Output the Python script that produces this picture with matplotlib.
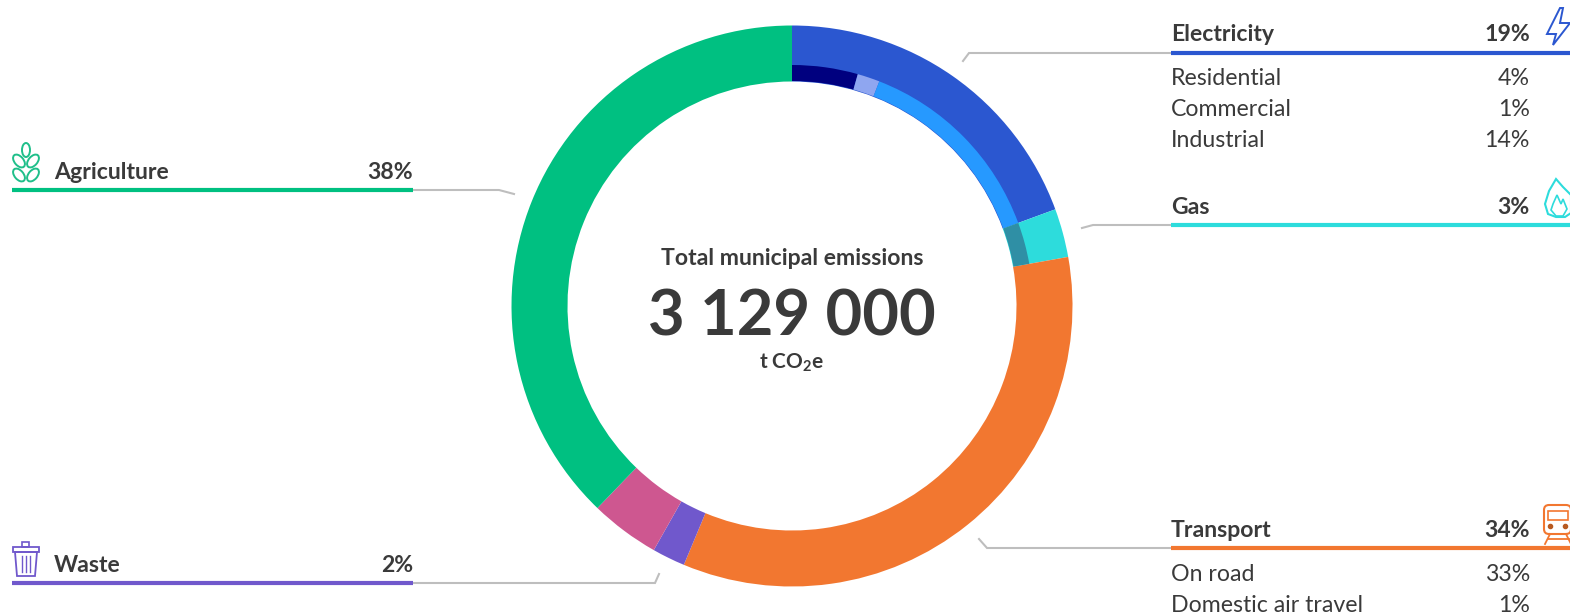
import matplotlib
matplotlib.use('Agg')
import matplotlib.pyplot as plt
from matplotlib.patches import Ellipse, FancyBboxPatch, Polygon, Rectangle

plt.rcParams['font.family'] = ['Lato', 'DejaVu Sans']

# Outer ring, clockwise from 12 o'clock (percent of total)
outer_values = [19.4, 2.8, 34.1, 1.9, 4.0, 37.8]
outer_colors = ['#2B57D0', '#2DDCDC', '#F27730', '#7058CC', '#CE5790', '#00C081']

# Inner band of the ring: electricity and gas sub-sectors, the rest left empty
inner_values = [4.4, 1.5, 13.5, 2.8, 77.8]
inner_colors = ['#00007F', '#8FA6F0', '#2699FF', '#2F8FA5', 'none']

# Legend blocks
sector_names = ['Electricity', 'Gas', 'Transport', 'Agriculture', 'Waste']
sector_pcts = ['19%', '3%', '34%', '38%', '2%']
sector_colors = ['#2B57D0', '#2DDCDC', '#F27730', '#00C081', '#7058CC']
sub_names = ['Residential', 'Commercial', 'Industrial', 'On road', 'Domestic air travel']
sub_pcts = ['4%', '1%', '14%', '33%', '1%']

TEXT = '#3A3A3A'
GREY = '#BEBEBE'
W, H = 1570, 613

fig = plt.figure(figsize=(W / 100, H / 100), dpi=100)

# Donut
cx, cy, R = 792, 306, 280.5
ring = fig.add_axes([(cx - R) / W, (H - cy - R) / H, 2 * R / W, 2 * R / H])
ring.pie(outer_values, colors=outer_colors, startangle=90, counterclock=False, radius=1,
         wedgeprops=dict(width=56 / R, linewidth=0))
ring.pie(inner_values, colors=inner_colors, startangle=90, counterclock=False, radius=241 / R,
         wedgeprops=dict(width=16 / R, linewidth=0))
ring.set_xlim(-1, 1)
ring.set_ylim(-1, 1)
ring.axis('off')

# Overlay in pixel coordinates for labels, rules and icons
ax = fig.add_axes([0, 0, 1, 1], facecolor='none')
ax.set_xlim(-1, W - 1)
ax.set_ylim(H - 1, -1)
ax.axis('off')


def block(i, x0, x1, xtext, xpct, y_base, y_rule, leader):
    lx, ly = zip(*leader)
    ax.plot(lx, ly, color=GREY, lw=1.5, solid_joinstyle='miter')
    ax.plot([x0, x1], [y_rule, y_rule], color=sector_colors[i], lw=3, solid_capstyle='butt')
    ax.text(xtext, y_base, sector_names[i], fontsize=16.6, fontweight='bold', color=TEXT, va='baseline')
    ax.text(xpct, y_base, sector_pcts[i], fontsize=16.6, fontweight='bold', color=TEXT, va='baseline', ha='right')


block(0, 1170, W, 1170, 1529, 40, 52, [(1170, 52), (968, 52), (962, 60)])
block(1, 1170, W, 1170, 1529, 213, 224, [(1170, 224), (1092, 224), (1081, 227)])
block(2, 1170, W, 1170, 1529, 536, 547, [(1170, 547), (986, 547), (978, 538)])
block(3, 11, 412, 53, 412, 178, 189, [(412, 189), (498, 189), (513, 193)])
block(4, 11, 412, 53, 412, 571, 582, [(412, 582), (654, 582), (658, 573)])

for name, pct, y in zip(sub_names, sub_pcts, [84, 115, 146, 580, 611]):
    ax.text(1170, y, name, fontsize=16.7, color=TEXT, va='baseline')
    ax.text(1529, y, pct, fontsize=16.7, color=TEXT, va='baseline', ha='right')

# Centre text
tx = 791
ax.text(tx, 264, 'Total municipal emissions', fontsize=16.6, fontweight='bold', color=TEXT, ha='center', va='baseline')
ax.text(tx, 335, '3 129 000', fontsize=45.5, fontweight='bold', color=TEXT, ha='center', va='baseline')
ax.text(tx, 367, r't CO$_{\mathregular{2}}$e', fontsize=15, fontweight='bold', color=TEXT, ha='center', va='baseline')

# Icons, hand drawn in pixel coordinates
bolt = [(1559, 7), (1546, 33), (1555, 33), (1552, 44), (1569, 22), (1559, 22), (1562, 7)]
ax.add_patch(Polygon(bolt, closed=True, fill=False, ec='#2B57D0', lw=1.4))

flame = [(1555, 178), (1548, 190), (1544, 203), (1547, 213), (1555, 216), (1564, 216), (1570, 212),
         (1570, 194), (1562, 186)]
ax.add_patch(Polygon(flame, closed=True, fill=False, ec='#2DDCDC', lw=1.5))
flame2 = [(1556, 194), (1552, 203), (1550, 209), (1555, 215), (1562, 215), (1566, 208), (1562, 198), (1560, 203)]
ax.add_patch(Polygon(flame2, closed=True, fill=False, ec='#2DDCDC', lw=1.2))

or_ic = '#F27730'
ax.add_patch(FancyBboxPatch((1543, 504), 27, 29, boxstyle='round,pad=0,rounding_size=5', fill=False, ec=or_ic, lw=1.5))
ax.add_patch(Rectangle((1547, 510), 20, 9, fill=False, ec=or_ic, lw=1.2))
ax.plot([1549], [525], 'o', ms=3, color='#B85A20')
ax.plot([1564], [525], 'o', ms=3, color='#B85A20')
ax.plot([1549, 1544], [533, 543], color=or_ic, lw=1.3)
ax.plot([1565, 1570], [533, 543], color=or_ic, lw=1.3)
ax.plot([1547, 1568], [538, 538], color=or_ic, lw=1.3)

gr_ic = '#1FBF8A'
ax.add_patch(Ellipse((25, 149), 8, 14, fill=False, ec=gr_ic, lw=1.4))
for x, a in [(18, -40), (32, 40)]:
    ax.add_patch(Ellipse((x, 160), 9, 15, angle=a, fill=False, ec=gr_ic, lw=1.4))
    ax.add_patch(Ellipse((x, 174), 9, 15, angle=a, fill=False, ec=gr_ic, lw=1.4))

pu_ic = '#7058CC'
ax.add_patch(Rectangle((21, 541), 7, 5, fill=False, ec=pu_ic, lw=1.2))
ax.add_patch(Rectangle((12, 546), 26, 5, fill=False, ec=pu_ic, lw=1.3))
ax.add_patch(Polygon([(14, 551), (36, 551), (34, 575), (16, 575)], closed=True, fill=False, ec=pu_ic, lw=1.3))
for x in [21, 25, 29]:
    ax.plot([x, x], [555, 571], color=pu_ic, lw=1)

fig.savefig('out.png', dpi=100)
